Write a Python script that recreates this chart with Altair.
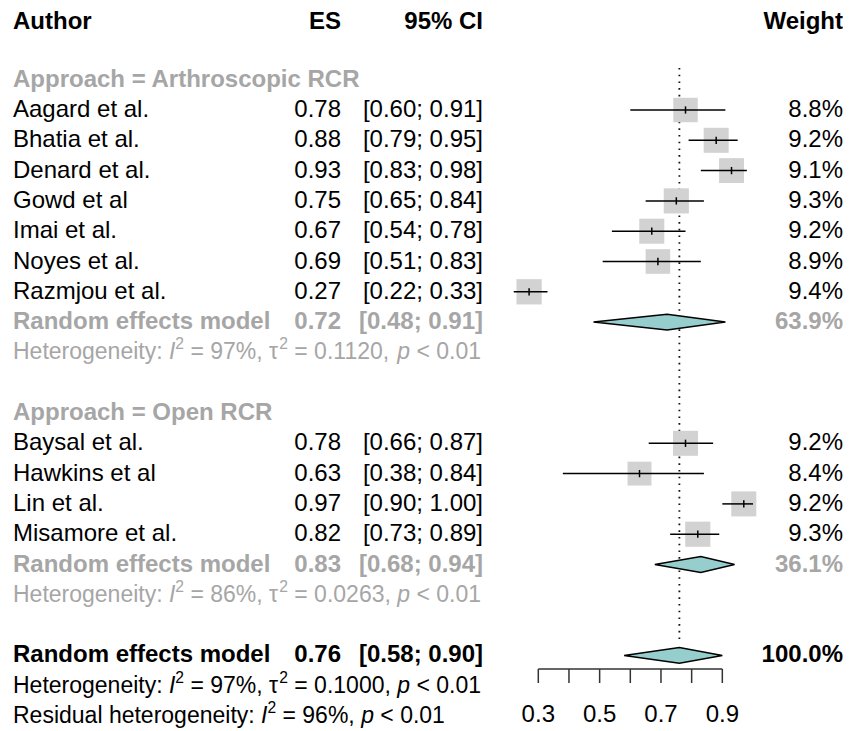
import altair as alt
import pandas as pd

# ---------------- data ----------------
authors = ["Aagard et al.", "Bhatia et al.", "Denard et al.", "Gowd et al", "Imai et al.",
           "Noyes et al.", "Razmjou et al.", "Baysal et al.", "Hawkins et al", "Lin et al.",
           "Misamore et al."]
approach = ["Arthroscopic RCR"] * 7 + ["Open RCR"] * 4
es = [0.78, 0.88, 0.93, 0.75, 0.67, 0.69, 0.27, 0.78, 0.63, 0.97, 0.82]
ci_lo = [0.60, 0.79, 0.83, 0.65, 0.54, 0.51, 0.22, 0.66, 0.38, 0.90, 0.73]
ci_hi = [0.91, 0.95, 0.98, 0.84, 0.78, 0.83, 0.33, 0.87, 0.84, 1.00, 0.89]
weight = [8.8, 9.2, 9.1, 9.3, 9.2, 8.9, 9.4, 9.2, 8.4, 9.2, 9.3]

groups = ["Arthroscopic RCR", "Open RCR"]
group_es = [0.72, 0.83]
group_lo = [0.48, 0.68]
group_hi = [0.91, 0.94]
group_weight = [63.9, 36.1]
group_i2 = ["97%", "86%"]
group_tau2 = ["0.1120", "0.0263"]

overall_es = 0.76
overall_lo = 0.58
overall_hi = 0.90
overall_weight = 100.0
overall_i2 = "97%"
overall_tau2 = "0.1000"
resid_i2 = "96%"
p_text = "< 0.01"

header = ["Author", "ES", "95% CI", "Weight"]
axis_ticks = [0.3, 0.4, 0.5, 0.6, 0.7, 0.8, 0.9]
axis_labels = [0.3, 0.5, 0.7, 0.9]

# ---------------- layout / style ----------------
W, H = 835, 715
FONT = "Liberation Sans"
FS = 24
HFS = 23
SUP_FS = HFS * 0.68
BLACK = "#000000"
GRAY = "#a6a6a6"
BOX = "#d2d2d2"
DIAMOND = "#96cdcd"
X03_PX, PX_PER = 530.3, 306.7           # pixel of 0.3 and pixels per unit
ROW0, ROWH = 11.1, 30.3                 # first row centre and row pitch
xdom = [0.3 - X03_PX / PX_PER, 0.3 + (W - X03_PX) / PX_PER]
ydom = [-ROW0 / ROWH, (H - ROW0) / ROWH]
xs = alt.Scale(domain=xdom, nice=False, zero=False)
ys = alt.Scale(domain=ydom, nice=False, zero=False, reverse=True)
COLS = {"author": (5, "left"), "es": (333, "right"), "ci": (475, "right"), "w": (835, "right")}

AW = {' ': 278, ',': 278, '.': 278, ':': 278, ';': 278, '%': 889, '<': 584, '=': 584,
      'H': 722, 'R': 722, 'I': 278, 'a': 556, 'd': 556, 'e': 556, 'g': 556, 'h': 556,
      'i': 222, 'l': 222, 'n': 556, 'o': 556, 'p': 556, 'r': 333, 's': 500, 't': 278,
      'u': 556, 'y': 500, 'τ': 440}


def tw(s, fs):
    return sum(AW.get(c, 556) for c in s) / 1000.0 * fs


def px_to_x(px):
    return xdom[0] + px / W * (xdom[1] - xdom[0])


texts, studies, diamonds, segs = [], [], [], []


def add(row, col, txt, bold, color):
    texts.append(dict(row=row, col=col, text=txt, bold=bold, color=color))


def het_line(row, parts, color):
    cur = 5.0
    for s, style in parts:
        fs = SUP_FS if style == "s" else HFS
        lead = len(s) - len(s.lstrip())
        segs.append(dict(row=row, xv=px_to_x(cur + tw(" " * lead, fs)), text=s.strip(),
                         style=style, color=color))
        cur += tw(s, fs)


for c, h in zip(["author", "es", "ci", "w"], header):
    add(0, c, h, True, BLACK)

k = 2
for gi, g in enumerate(groups):
    add(k, "author", f"Approach = {g}", True, GRAY)
    k += 1
    for i in range(len(authors)):
        if approach[i] != g:
            continue
        add(k, "author", authors[i], False, BLACK)
        add(k, "es", f"{es[i]:.2f}", False, BLACK)
        add(k, "ci", f"[{ci_lo[i]:.2f}; {ci_hi[i]:.2f}]", False, BLACK)
        add(k, "w", f"{weight[i]:.1f}%", False, BLACK)
        studies.append(dict(row=k, es=es[i], lo=ci_lo[i], hi=ci_hi[i], w=weight[i]))
        k += 1
    add(k, "author", "Random effects model", True, GRAY)
    add(k, "es", f"{group_es[gi]:.2f}", True, GRAY)
    add(k, "ci", f"[{group_lo[gi]:.2f}; {group_hi[gi]:.2f}]", True, GRAY)
    add(k, "w", f"{group_weight[gi]:.1f}%", True, GRAY)
    diamonds.append((f"d{gi}", k, group_es[gi], group_lo[gi], group_hi[gi]))
    k += 1
    het_line(k, [("Heterogeneity: ", "n"), ("I", "i"), ("2", "s"),
                 (f" = {group_i2[gi]}, τ", "n"), ("2", "s"),
                 (f" = {group_tau2[gi]}, ", "n"), ("p", "i"), (f" {p_text}", "n")], GRAY)
    k += 2

add(k, "author", "Random effects model", True, BLACK)
add(k, "es", f"{overall_es:.2f}", True, BLACK)
add(k, "ci", f"[{overall_lo:.2f}; {overall_hi:.2f}]", True, BLACK)
add(k, "w", f"{overall_weight:.1f}%", True, BLACK)
diamonds.append(("dall", k, overall_es, overall_lo, overall_hi))
het_line(k + 1, [("Heterogeneity: ", "n"), ("I", "i"), ("2", "s"),
                 (f" = {overall_i2}, τ", "n"), ("2", "s"),
                 (f" = {overall_tau2}, ", "n"), ("p", "i"), (f" {p_text}", "n")], BLACK)
het_line(k + 2, [("Residual heterogeneity: ", "n"), ("I", "i"), ("2", "s"),
                 (f" = {resid_i2}, ", "n"), ("p", "i"), (f" {p_text}", "n")], BLACK)

tdf = pd.DataFrame(texts)
sdf = pd.DataFrame(studies)
segdf = pd.DataFrame(segs)
HALF = 0.26
drows = []
for did, row, e, lo, hi in diamonds:
    drows += [dict(did=did, px=lo, ytop=row, ybot=row),
              dict(did=did, px=e, ytop=row - HALF, ybot=row + HALF),
              dict(did=did, px=hi, ytop=row, ybot=row)]
ddf = pd.DataFrame(drows)

X = lambda f: alt.X(f, scale=xs, axis=None)
Y = lambda f: alt.Y(f, scale=ys, axis=None)

layers = []
# reference line at overall estimate
layers.append(alt.Chart(pd.DataFrame({"es": [overall_es]})).mark_rule(
    strokeDash=[1.6, 5.1], strokeWidth=1.8, color="#111111").encode(
    x=X("es:Q"), y=alt.value(60), y2=alt.value(634)))
# squares
layers.append(alt.Chart(sdf).mark_square(color=BOX, opacity=1).encode(
    x=X("es:Q"), y=Y("row:Q"),
    size=alt.Size("w:Q", scale=alt.Scale(domain=[0, 10], range=[0, 680]), legend=None)))
# CI lines
layers.append(alt.Chart(sdf).mark_rule(color=BLACK, strokeWidth=1.5).encode(
    x=X("lo:Q"), x2="hi:Q", y=Y("row:Q")))
# estimate ticks
layers.append(alt.Chart(sdf).transform_calculate(
    r1="datum.row - 0.12", r2="datum.row + 0.12").mark_rule(color=BLACK, strokeWidth=1.5).encode(
    x=X("es:Q"), y=Y("r1:Q"), y2="r2:Q"))
# diamonds (one area layer each)
for did in ddf["did"].unique():
    layers.append(alt.Chart(ddf).transform_filter(f"datum.did == '{did}'").mark_area(
        orient="vertical", fill=DIAMOND, fillOpacity=1, stroke=BLACK, strokeWidth=1.5).encode(
        x=X("px:Q"), y=alt.Y("ytop:Q", scale=ys, axis=None, stack=None), y2="ybot:Q"))
# axis
layers.append(alt.Chart(pd.DataFrame({"a": [min(axis_ticks)], "b": [max(axis_ticks)]})).mark_rule(
    color="#333333", strokeWidth=1.5).encode(x=X("a:Q"), x2="b:Q", y=alt.value(661)))
layers.append(alt.Chart(pd.DataFrame({"t": axis_ticks})).mark_rule(
    color="#333333", strokeWidth=1.5).encode(x=X("t:Q"), y=alt.value(661), y2=alt.value(675)))
layers.append(alt.Chart(pd.DataFrame({"t": axis_labels})).mark_text(
    font=FONT, fontSize=FS, align="center", baseline="middle", color=BLACK).encode(
    x=X("t:Q"), y=alt.value(707), text=alt.Text("t:Q", format=".1f")))
# table text
for col, (xpx, al) in COLS.items():
    for bold in (True, False):
        layers.append(alt.Chart(tdf).transform_filter(
            f"datum.col == '{col}' && datum.bold == {str(bold).lower()}").transform_calculate(
            yy="datum.row == 0 ? 0.1 : datum.row").mark_text(
            font=FONT, fontSize=FS, align=al, baseline="middle",
            fontWeight="bold" if bold else "normal").encode(
            x=alt.value(xpx), y=Y("yy:Q"), text="text:N",
            color=alt.Color("color:N", scale=None)))
# heterogeneity lines (mixed styles)
for style in ("n", "i", "s"):
    layers.append(alt.Chart(segdf).transform_filter(f"datum.style == '{style}'").mark_text(
        font=FONT, fontSize=SUP_FS if style == "s" else HFS, align="left", baseline="middle",
        fontStyle="italic" if style == "i" else "normal", dy=-8 if style == "s" else 0).encode(
        x=X("xv:Q"), y=Y("row:Q"), text="text:N", color=alt.Color("color:N", scale=None)))

chart = alt.layer(*layers).properties(width=W, height=H, padding=0).configure_view(stroke=None)
chart.save("out.html", embed_options={"renderer": "svg", "actions": False})
